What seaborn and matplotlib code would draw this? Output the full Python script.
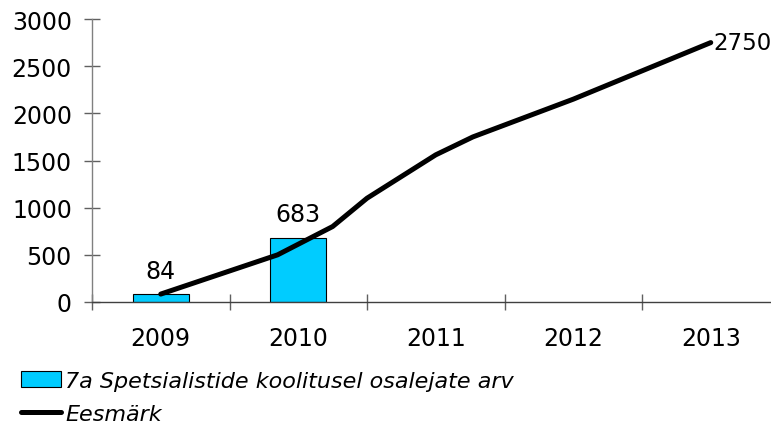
import matplotlib
matplotlib.use("Agg")
import matplotlib.pyplot as plt
from matplotlib.patches import Patch
from matplotlib.lines import Line2D
from matplotlib.ticker import FixedLocator
import pandas as pd
import seaborn as sns

# Categories and series
years = ["2009", "2010", "2011", "2012", "2013"]
participant_years = ["2009", "2010"]
participants = [84, 683]

# Target path (position along the year axis, 2009 = 0) and values
target_pos = [0.0, 0.85, 1.25, 1.5, 2.0, 2.27, 3.0, 4.0]
target_vals = [84, 500, 800, 1100, 1560, 1750, 2150, 2750]

y_ticks = [0, 500, 1000, 1500, 2000, 2500, 3000]

bar_label = "7a Spetsialistide koolitusel osalejate arv"
line_label = "Eesmärk"

sns.set_theme(style="white")
plt.rcParams["font.family"] = ["DejaVu Sans"]
plt.rcParams["text.color"] = "black"

fig = plt.figure(figsize=(7.71, 4.27), dpi=100)
ax = fig.add_axes([92 / 771, 1 - 303 / 427, 687.5 / 771, 283 / 427])

bars_df = pd.DataFrame({"year": participant_years, "value": participants})
sns.barplot(data=bars_df, x="year", y="value", order=years, color="#00CCFF",
            saturation=1, width=0.41, edgecolor="black", linewidth=0.8, ax=ax)

line_df = pd.DataFrame({"pos": target_pos, "value": target_vals})
sns.lineplot(data=line_df, x="pos", y="value", color="black", linewidth=3.6,
             sort=False, ax=ax, zorder=5)

for cont in ax.containers:
    ax.bar_label(cont, labels=[str(v) for v in participants], padding=8,
                 fontsize=17, color="black")

ax.annotate(str(target_vals[-1]), xy=(target_pos[-1], target_vals[-1]),
            xytext=(2, 0), textcoords="offset points", ha="left", va="center",
            fontsize=16.5, color="black", annotation_clip=False)

ax.set_xlim(-0.5, 4.5)
ax.set_ylim(0, 3000)
ax.set_yticks(y_ticks)
ax.set_xticks(range(len(years)))
ax.set_xticklabels(years)
ax.xaxis.set_minor_locator(FixedLocator([i - 0.5 for i in range(len(years) + 1)]))
ax.set_xlabel("")
ax.set_ylabel("")

for side in ["top", "right"]:
    ax.spines[side].set_visible(False)
ax.spines["left"].set_color("#808080")
ax.spines["left"].set_linewidth(1.0)
ax.spines["bottom"].set_color("#404040")
ax.spines["bottom"].set_linewidth(1.0)

ax.tick_params(axis="y", which="major", direction="inout", length=11, width=1,
               color="#606060", labelsize=17, labelcolor="black", pad=9, left=True)
ax.tick_params(axis="x", which="major", length=0, labelsize=17,
               labelcolor="black", pad=17)
ax.tick_params(axis="x", which="minor", direction="inout", length=12, width=1,
               color="#606060", bottom=True)

handles = [Patch(facecolor="#00CCFF", edgecolor="black", linewidth=0.8),
           Line2D([0], [0], color="black", linewidth=3.6)]
leg = fig.legend(handles, [bar_label, line_label], loc="upper left",
                 bbox_to_anchor=(12 / 771, 1 - 363 / 427), frameon=False,
                 prop={"style": "italic", "size": 16}, handlelength=1.8,
                 handletextpad=0.2, labelspacing=0.6, borderaxespad=0)
for t in leg.get_texts():
    t.set_color("black")

fig.savefig("out.png", dpi=100)
